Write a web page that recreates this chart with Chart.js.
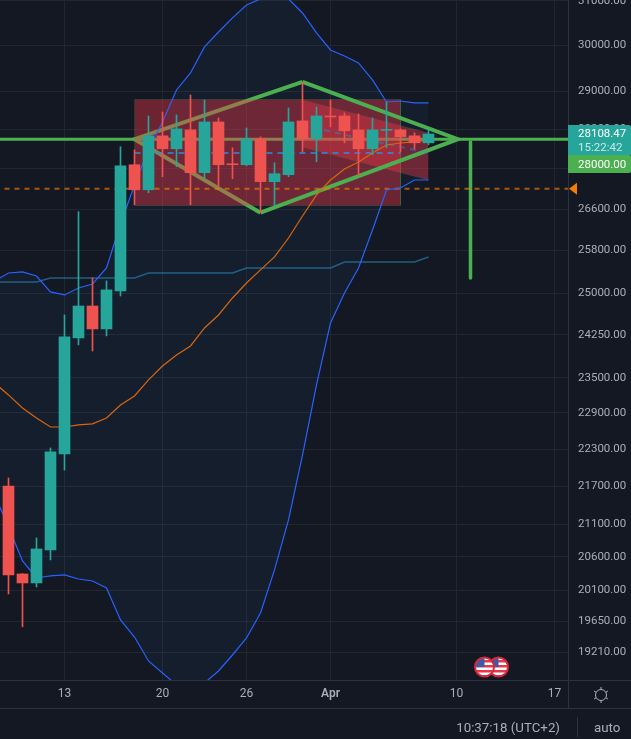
<!DOCTYPE html>
<html>
<head>
<meta charset="utf-8">
<style>
  html, body { margin: 0; padding: 0; background: #141823; overflow: hidden; }
  canvas { display: block; }
</style>
<script src="https://cdn.jsdelivr.net/npm/chart.js@4"></script>
</head>
<body>
<canvas id="price-chart" width="631" height="739"></canvas>
<script>
// days are counted from 13 March
const candleDays = [-4,-3,-2,-1,0,1,2,3,4,5,6,7,8,9,10,11,12,13,14,15,16,17,18,19,20,21,22,23,24,25,26];
const openPrices = [21702,20344,20210,20706,22219,24197,24771,24357,25048,27480,26979,28070,27804,28193,27320,28358,27500,27480,28008,27141,27280,28379,28008,28483,28483,28193,27804,28183,28193,28070,27926];
const highPrices = [21830,20350,20889,22317,24608,26548,25288,25232,27845,27783,28483,28567,28504,28925,28819,28442,27824,28234,28049,27520,28650,29201,28671,28819,28546,28525,28442,28777,28214,28132,28193];
const lowPrices = [20048,19569,20151,20555,21958,24073,23965,24233,24953,26684,26920,27240,27440,26684,27200,27061,27200,27460,26529,26664,27240,27742,27540,28255,27926,27260,27682,27824,27742,27804,27886];
const closePrices = [20329,20210,20721,22252,24215,24771,24357,25066,27460,26979,28070,27804,28214,27320,28358,27480,27480,28008,27141,27300,28358,28008,28483,28462,28173,27804,28193,28203,28049,27926,28108.47];

const lineDays = [-5,-4,-3,-2,-1,0,1,2,3,4,5,6,7,8,9,10,11,12,13,14,15,16,17,18,19,20,21,22,23,24,25,26];
const upperBand = [25231,25379,25398,25323,25028,24973,25101,25175,25473,26310,27075,27800,28357,29032,29397,29964,30296,30610,30903,31040,31085,31040,30722,30274,29898,29766,29614,29246,28777,28798,28756,28756];
const lowerBand = [21560,21059,20539,20284,20314,20329,20269,20239,20136,19668,19423,19084,18916,18751,18709,18778,18944,19168,19409,19769,20404,21167,22202,23375,24464,25009,25473,26194,26976,27015,27174,27174];
const basisLine = [23409,23204,22983,22815,22664,22664,22698,22715,22815,23034,23187,23461,23703,23896,24054,24374,24608,24917,25193,25436,25680,26040,26465,26876,27174,27395,27536,27719,27882,27923,27944,27985];
const slowLine = [25212,25212,25212,25212,25286,25286,25286,25286,25286,25286,25286,25379,25379,25379,25379,25379,25379,25379,25473,25473,25473,25473,25473,25473,25473,25585,25585,25585,25585,25585,25585,25680];

// drawings on top of the candles
const targetPrice = 28000;
const lastPrice = 28108.47;
const markPrice = 27000;
const lastCountdown = '15:22:42';
const diamondDays = [5, 17, 28.1, 14];
const diamondPrices = [targetPrice, 29203, targetPrice, 26529];
const boxDays = [5, 24];
const boxPrices = [28830, 26670];
const channelDays = [17, 26];
const channelTop = [28819, 28129];
const channelBottom = [27841, 27174];
const channelMiddle = [28283, 27719];
const boxMiddlePrice = 27719;
const dropDays = [29, 29];
const dropPrices = [27944, 25286];
const eventDays = [31, 30];

const priceTicks = [31000,30000,29000,28200,27400,26600,25800,25000,24250,23500,22900,22300,21700,21100,20600,20100,19650,19210];
const dayTicks = [0, 7, 13, 19, 28, 35];
const dayLabels = ['13', '20', '26', 'Apr', '10', '17'];

const upColor = '#26a69a';
const downColor = '#ef5350';
const green = '#4caf50';
const textColor = '#abaeb7';
const gridColor = '#222631';
const lineColor = '#2e323e';
const fontName = 'Roboto, "Open Sans", sans-serif';

function series(days, values) {
  return days.map(function (d, i) { return { x: d, y: values[i] }; });
}

function flat(days, price) {
  return days.map(function (d) { return { x: d, y: price }; });
}

function lineSet(points, color, width, order, extra) {
  return Object.assign({
    type: 'line',
    data: points,
    borderColor: color,
    borderWidth: width,
    pointRadius: 0,
    tension: 0,
    fill: false,
    order: order
  }, extra || {});
}

const candleColors = candleDays.map(function (d, i) {
  return closePrices[i] >= openPrices[i] ? upColor : downColor;
});

const diamondBack = [
  { x: diamondDays[1], y: diamondPrices[1] },
  { x: diamondDays[0], y: diamondPrices[0] },
  { x: diamondDays[3], y: diamondPrices[3] }
];
const diamondFront = [
  { x: diamondDays[1], y: diamondPrices[1] },
  { x: diamondDays[2], y: diamondPrices[2] },
  { x: diamondDays[3], y: diamondPrices[3] }
];
const boxOutline = [
  { x: boxDays[0], y: boxPrices[0] },
  { x: boxDays[1], y: boxPrices[0] },
  { x: boxDays[1], y: boxPrices[1] },
  { x: boxDays[0], y: boxPrices[1] },
  { x: boxDays[0], y: boxPrices[0] }
];

const datasets = [
  // band background, the two edges are drawn again further up
  lineSet(series(lineDays, upperBand), 'transparent', 0, 20, { fill: '+1', backgroundColor: 'rgba(33,150,243,0.05)' }),
  lineSet(series(lineDays, lowerBand), 'transparent', 0, 19),
  lineSet(series(lineDays, slowLine), 'rgba(41,130,180,0.65)', 1.5, 18),
  lineSet(flat([-5, 36], targetPrice), green, 3, 17),
  lineSet(diamondBack, green, 4, 17),
  // box and channel, both filled between two lines
  lineSet(flat(boxDays, boxPrices[0]), 'transparent', 0, 16, { fill: '+1', backgroundColor: 'rgba(242,54,69,0.4)' }),
  lineSet(flat(boxDays, boxPrices[1]), 'transparent', 0, 15),
  lineSet(boxOutline, 'rgba(76,175,80,0.2)', 1, 14),
  lineSet(series(channelDays, channelTop), 'rgba(76,175,80,0.12)', 1, 13, { fill: '+1', backgroundColor: 'rgba(242,54,69,0.4)' }),
  lineSet(series(channelDays, channelBottom), 'rgba(76,175,80,0.12)', 1, 12),
  lineSet(diamondFront, green, 4, 11),
  lineSet(flat(boxDays, boxMiddlePrice), 'rgba(33,150,243,0.7)', 2, 10, { borderDash: [6, 5] }),
  lineSet(series(channelDays, channelMiddle), 'rgba(33,150,243,0.4)', 2, 10, { borderDash: [6, 5] }),
  lineSet(flat([-5, 36], markPrice), 'rgba(245,124,0,0.65)', 2, 9, { borderDash: [5, 5] }),
  lineSet(series(dropDays, dropPrices), green, 3.5, 9, { borderCapStyle: 'round' }),
  lineSet(series(lineDays, upperBand), '#2962ff', 1.2, 8),
  lineSet(series(lineDays, lowerBand), '#2962ff', 1.2, 8),
  lineSet(series(lineDays, basisLine), '#d9660f', 1.2, 8),
  {
    type: 'bar',
    data: candleDays.map(function (d, i) { return { x: d, y: [lowPrices[i], highPrices[i]] }; }),
    backgroundColor: candleColors,
    barThickness: 1,
    grouped: false,
    order: 4
  },
  {
    type: 'bar',
    data: candleDays.map(function (d, i) { return { x: d, y: [openPrices[i], closePrices[i]] }; }),
    backgroundColor: candleColors,
    barThickness: 11,
    grouped: false,
    order: 3
  }
];

function drawFlag(ctx, x, y) {
  const r = 9;
  ctx.save();
  ctx.beginPath();
  ctx.arc(x, y, r, 0, Math.PI * 2);
  ctx.clip();
  ctx.fillStyle = '#ffffff';
  ctx.fillRect(x - r, y - r, r * 2, r * 2);
  ctx.fillStyle = '#e8394a';
  for (let s = -7; s < 9; s += 5) {
    ctx.fillRect(x - r, y + s, r * 2, 2.5);
  }
  ctx.fillStyle = '#3c5aa6';
  ctx.fillRect(x - r, y - r, r, r);
  ctx.restore();
  ctx.beginPath();
  ctx.arc(x, y, r + 0.5, 0, Math.PI * 2);
  ctx.strokeStyle = '#d9263a';
  ctx.lineWidth = 2;
  ctx.stroke();
}

function drawGear(ctx, x, y) {
  ctx.save();
  ctx.strokeStyle = textColor;
  ctx.lineWidth = 1;
  ctx.beginPath();
  ctx.arc(x, y, 5.5, 0, Math.PI * 2);
  ctx.stroke();
  for (let a = 0; a < 6; a++) {
    const t = a * Math.PI / 3 + Math.PI / 2;
    ctx.beginPath();
    ctx.moveTo(x + Math.cos(t) * 5.5, y + Math.sin(t) * 5.5);
    ctx.lineTo(x + Math.cos(t) * 8, y + Math.sin(t) * 8);
    ctx.stroke();
  }
  ctx.restore();
}

function priceBox(ctx, left, top, width, height, color) {
  ctx.fillStyle = color;
  ctx.beginPath();
  ctx.roundRect(left, top, width, height, [0, 2, 2, 0]);
  ctx.fill();
}

// labels on the price axis, event icons and the footer
const chartExtras = {
  id: 'chartExtras',
  afterDraw: function (chart) {
    const ctx = chart.ctx;
    const area = chart.chartArea;
    const xs = chart.scales.x;
    const ys = chart.scales.y;

    // frame lines
    ctx.fillStyle = lineColor;
    ctx.fillRect(area.right, 0, 1, 708);
    ctx.fillRect(0, area.bottom, 631, 1);
    ctx.fillRect(0, 708, 631, 1);
    ctx.fillRect(577, 717, 1, 20);

    eventDays.forEach(function (d) {
      drawFlag(ctx, xs.getPixelForValue(d), 667);
    });

    // mark price arrow
    const markY = ys.getPixelForValue(markPrice);
    ctx.fillStyle = '#f57c00';
    ctx.beginPath();
    ctx.moveTo(569, markY);
    ctx.lineTo(577, markY - 6);
    ctx.lineTo(577, markY + 6);
    ctx.closePath();
    ctx.fill();

    priceBox(ctx, 568, 125, 63, 31, upColor);
    priceBox(ctx, 568, 155, 63, 18, green);
    ctx.textBaseline = 'middle';
    ctx.textAlign = 'left';
    ctx.font = '11.5px ' + fontName;
    ctx.fillStyle = '#ffffff';
    ctx.fillText(lastPrice.toFixed(2), 578, 134);
    ctx.fillText(targetPrice.toFixed(2), 578, 165);
    ctx.fillStyle = 'rgba(255,255,255,0.75)';
    ctx.fillText(lastCountdown, 578, 148);

    ctx.fillStyle = textColor;
    ctx.font = '13.3px ' + fontName;
    ctx.textAlign = 'right';
    ctx.fillText('10:37:18 (UTC+2)', 560, 729);
    ctx.textAlign = 'left';
    ctx.fillText('auto', 594, 729);

    drawGear(ctx, 601, 695);
  }
};

new Chart(document.getElementById('price-chart'), {
  data: { datasets: datasets },
  plugins: [chartExtras],
  options: {
    responsive: false,
    animation: false,
    layout: { autoPadding: false, padding: { left: 0, top: 0, right: 0, bottom: 31 } },
    plugins: { legend: { display: false }, tooltip: { enabled: false } },
    scales: {
      x: {
        type: 'linear',
        offset: false,
        min: -4.607,
        max: 35.964,
        afterBuildTicks: function (scale) {
          scale.ticks = dayTicks.map(function (d) { return { value: d }; });
        },
        afterFit: function (scale) {
          scale.height = 28;
          scale.paddingLeft = 0;
          scale.paddingRight = 0;
        },
        grid: { color: gridColor, drawTicks: false, offset: false },
        border: { display: false },
        ticks: {
          autoSkip: false,
          maxRotation: 0,
          padding: 7,
          color: textColor,
          font: function (ctx) {
            return { family: fontName, size: 12, weight: ctx.tick && ctx.tick.value === 19 ? '600' : '400' };
          },
          callback: function (value) { return dayLabels[dayTicks.indexOf(value)]; }
        }
      },
      y: {
        type: 'logarithmic',
        position: 'right',
        min: 18819,
        max: 31016,
        afterBuildTicks: function (scale) {
          scale.ticks = priceTicks.map(function (p) { return { value: p }; });
        },
        afterFit: function (scale) {
          scale.width = 63;
          scale.paddingTop = 0;
          scale.paddingBottom = 0;
        },
        grid: { color: gridColor, drawTicks: false },
        border: { display: false },
        ticks: {
          autoSkip: false,
          padding: 10,
          color: textColor,
          font: { family: fontName, size: 11.5 },
          callback: function (value) { return value.toFixed(2); }
        }
      }
    }
  }
});
</script>
</body>
</html>
